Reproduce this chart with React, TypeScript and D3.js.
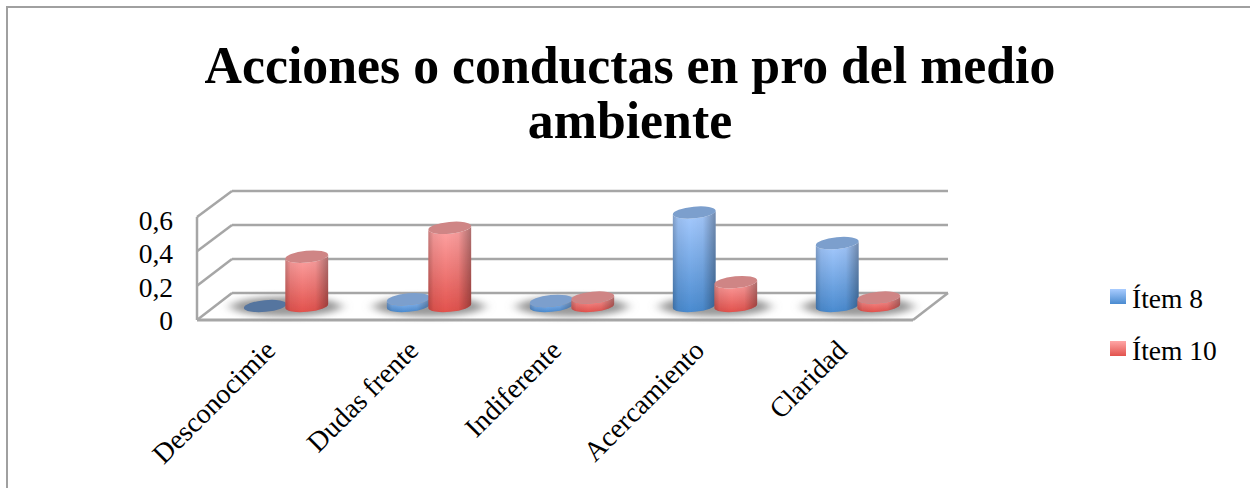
import React from "react";
import * as d3 from "d3";

const categories = ["Desconocimie", "Dudas frente", "Indiferente", "Acercamiento", "Claridad"];
const seriesNames = ["Ítem 8", "Ítem 10"];
const item8 = [0, 0.04, 0.03, 0.55, 0.37];
const item10 = [0.29, 0.46, 0.05, 0.14, 0.05];
const yTicks = [0, 0.2, 0.4, 0.6];
const tickLabels = ["0", "0,2", "0,4", "0,6"];
const titleLines = ["Acciones o conductas en pro del medio", "ambiente"];

const FONT = "'Liberation Serif', serif";
const TEXT = "#000";
const GRID = "#a6a6a6";

const x0 = d3.scaleBand<string>().domain(categories).range([214.5, 929.5]);
const x1 = d3.scaleBand<string>().domain(seriesNames).range([-41.5, 41.5]);
const h = d3.scaleLinear().domain([0, 0.6]).range([0, 102]);
const backY = d3.scaleLinear().domain([0, 0.6]).range([293, 191]);
const frontY = d3.scaleLinear().domain([0, 0.6]).range([320, 217]);
const labelY = d3.scaleLinear().domain([0, 0.6]).range([330, 229.5]);

const BASE = 306;
const RX = 21.5;
const RY = 5.9;
const TILT = -5.5;

function cyl(cx: number, hgt: number) {
  const a = (TILT * Math.PI) / 180;
  const dx = RX * Math.cos(a);
  const dy = RX * Math.sin(a);
  const top = BASE - hgt;
  return `M${cx - dx},${top - dy}L${cx - dx},${BASE - dy}A${RX},${RY} ${TILT} 0 0 ${cx + dx},${BASE + dy}L${cx + dx},${top + dy}A${RX},${RY} ${TILT} 0 1 ${cx - dx},${top - dy}Z`;
}

const series = [
  { name: seriesNames[0], values: item8, side: "blueV", top: "#7c9fcd", zero: "#55749f", c0: "#a9ccff", c1: "#4a8bd0" },
  { name: seriesNames[1], values: item10, side: "redV", top: "#cf8585", zero: "#cf8585", c0: "#ffa6a6", c1: "#e2524d" },
];

export default function App() {
  return (
    <svg
      width={1250}
      height={488}
      style={{ position: "absolute", left: 0, top: 0, display: "block", background: "#fff" }}
      fontFamily={FONT}
    >
      <defs>
        {series.map((s) => (
          <linearGradient key={s.side} id={s.side} x1="0" y1="0" x2="0" y2="1">
            <stop offset="0" stopColor={s.c0} />
            <stop offset="1" stopColor={s.c1} />
          </linearGradient>
        ))}
        <linearGradient id="edge" x1="0" y1="0" x2="1" y2="0">
          <stop offset="0" stopColor="#000" stopOpacity={0.22} />
          <stop offset="0.12" stopColor="#000" stopOpacity={0.06} />
          <stop offset="0.4" stopColor="#000" stopOpacity={0} />
          <stop offset="0.7" stopColor="#000" stopOpacity={0.04} />
          <stop offset="1" stopColor="#000" stopOpacity={0.32} />
        </linearGradient>
        <filter id="blur" x="-40%" y="-150%" width="180%" height="400%">
          <feGaussianBlur stdDeviation="6 3" />
        </filter>
        <filter id="soft" x="-5%" y="-5%" width="110%" height="110%">
          <feGaussianBlur stdDeviation="0.45" />
        </filter>
      </defs>

      <path d="M7,488V7H1250" fill="none" stroke="#a0a0a0" strokeWidth={2} />

      {titleLines.map((t, i) => (
        <text
          key={t}
          x={630}
          y={83 + i * 55}
          textAnchor="middle"
          fontSize={51.8}
          fontWeight="bold"
          fill={TEXT}
        >
          {t}
        </text>
      ))}

      <g fill="none" stroke={GRID} strokeWidth={2.5}>
        {yTicks.map((v) => (
          <g key={v}>
            <line x1={232} x2={948} y1={backY(v)} y2={backY(v)} />
            <line x1={197} x2={232} y1={frontY(v)} y2={backY(v)} />
          </g>
        ))}
        <line x1={197} x2={197} y1={frontY(0)} y2={frontY(0.6)} />
        <line x1={197} x2={913} y1={320} y2={320} strokeWidth={3} />
        <line x1={913} x2={948} y1={320} y2={293} />
      </g>

      {categories.map((c) => (
        <g key={c} fill="#999999" filter="url(#blur)">
          <ellipse
            cx={x0(c)! + x0.bandwidth() / 2}
            cy={306.5}
            rx={55}
            ry={10}
          />
        </g>
      ))}

      <g filter="url(#soft)">
        {categories.map((c) => {
          const i = categories.indexOf(c);
          const center = x0(c)! + x0.bandwidth() / 2;
          return (
            <g key={c}>
              {series.map((s) => {
                const cx = center + x1(s.name)! + x1.bandwidth() / 2;
                const v = s.values[i];
                const hgt = h(v);
                return (
                  <g key={s.name}>
                    {v > 0 && <path d={cyl(cx, hgt)} fill={`url(#${s.side})`} />}
                    {v > 0 && <path d={cyl(cx, hgt)} fill="url(#edge)" />}
                    <ellipse
                      cx={cx}
                      cy={BASE - hgt}
                      rx={RX}
                      ry={RY}
                      transform={`rotate(${TILT} ${cx} ${BASE - hgt})`}
                      fill={v > 0 ? s.top : s.zero}
                    />
                  </g>
                );
              })}
            </g>
          );
        })}
      </g>

      {yTicks.map((v, i) => (
        <text key={v} x={173} y={labelY(v)} textAnchor="end" fontSize={27.5} fill={TEXT}>
          {tickLabels[i]}
        </text>
      ))}

      {categories.map((c) => {
        const center = x0(c)! + x0.bandwidth() / 2;
        return (
          <text
            key={c}
            transform={`translate(${center - 9},${352}) rotate(-45)`}
            textAnchor="end"
            fontSize={28}
            fill={TEXT}
          >
            {c}
          </text>
        );
      })}

      {series.map((s, i) => (
        <g key={s.name} transform={`translate(1110,${289 + i * 52})`}>
          <rect width={16} height={15} fill={`url(#${s.side})`} />
          <text x={22} y={19} fontSize={27.5} fill={TEXT}>
            {s.name}
          </text>
        </g>
      ))}
    </svg>
  );
}
